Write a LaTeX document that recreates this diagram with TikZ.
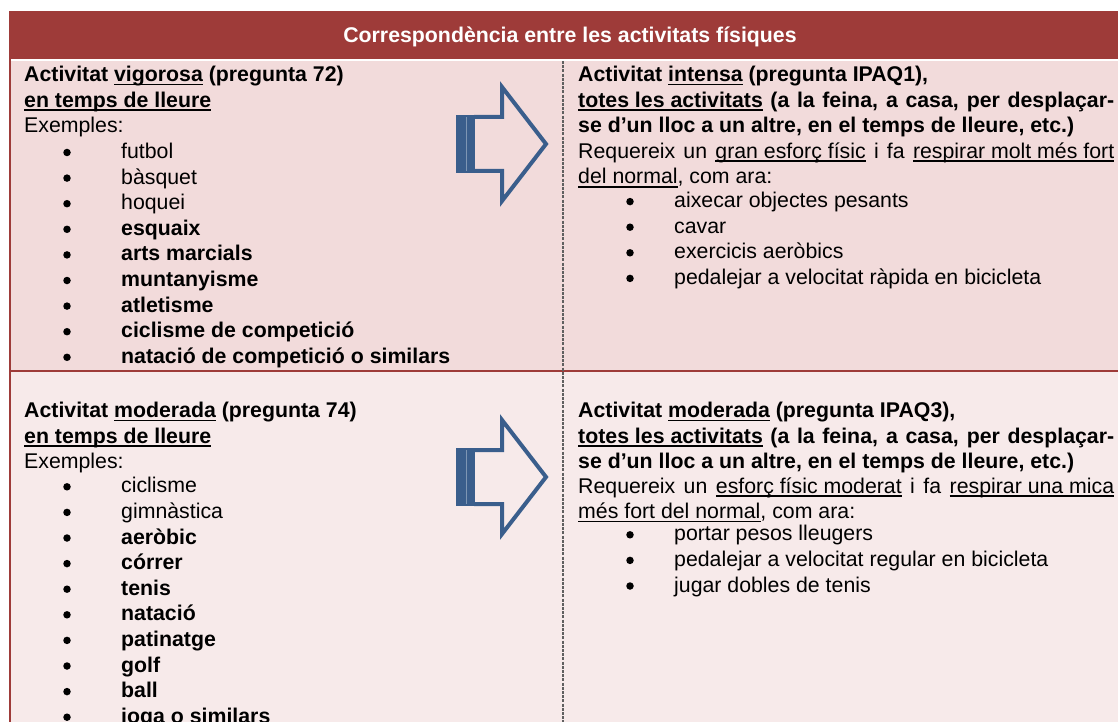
\documentclass[tikz,border=0pt]{standalone}
\usepackage{fontspec}
\setmainfont{Liberation Sans}
\usepackage{tikz}
\newcommand{\tsize}{\fontsize{21.3pt}{25.6pt}\selectfont}
\newcommand{\undl}[1]{\setbox0\hbox{#1}\rlap{\rule[-3.6pt]{\wd0}{1.5pt}}\box0\relax}
\newcommand{\jline}[1]{\makebox[536pt][s]{#1}}
\definecolor{cHead}{RGB}{158,59,57}
\definecolor{cRowA}{RGB}{242,219,219}
\definecolor{cRowB}{RGB}{247,234,234}
\definecolor{cArrow}{RGB}{58,94,140}
\definecolor{cDash}{RGB}{96,96,96}
\tikzstyle{txt}=[anchor=base west, inner sep=0pt, font=\tsize]
\tikzstyle{head}=[anchor=base, inner sep=0pt, text=white, font=\tsize\bfseries]
\tikzstyle{bul}=[circle, fill=black, inner sep=0pt, minimum size=7.5pt]
\tikzstyle{blk}=[draw=cArrow, line width=4pt, line join=miter, miter limit=10]
\begin{document}
\begin{tikzpicture}[x=1pt, y=-1pt]
  \useasboundingbox (0,0) rectangle (1118,722);
  \clip (0,0) rectangle (1118,722);
  % table cells
  \fill[cHead] (9,11) rectangle (1130,59);
  \fill[cRowA] (11,61) rectangle (1130,370);
  \fill[cRowB] (11,372) rectangle (1130,730);
  \fill[cHead] (9,369.7) rectangle (1130,371.7);
  \fill[cHead] (9,11) rectangle (11,730);
  \draw[cDash, line width=1.3pt, dash pattern=on 3pt off 1.2pt] (563,61) -- (563,730);
  \node[head] (title) at (570,43) {Correspondència entre les activitats físiques};

  % block arrows
  \foreach \c in {144,477}{
    \fill[cArrow] (456,\c-29) rectangle (475,\c+29);
    \draw[white, opacity=0.35, line width=0.8pt] (466.5,\c-27) -- (466.5,\c+27);
    \draw[blk] (474,\c-27) -- (502,\c-27) -- (502,\c-57) -- (546,\c) -- (502,\c+57) -- (502,\c+27) -- (474,\c+27);
  }

  % vigorosa / intensa
  \node[txt] (vig-1) at (24,81.6) {\textbf{Activitat \undl{vigorosa} (pregunta 72)}};
  \node[txt] (vig-2) at (24,107.2) {\textbf{\undl{en temps de lleure}}};
  \node[txt] (vig-3) at (24,132.8) {Exemples:};
  \foreach \t [count=\i] in {futbol,bàsquet,hoquei}{
    \node[bul] (vb-\i) at (67,{158.5+25.6*(\i-1)-6}) {};
    \node[txt] (vi-\i) at (121,{158.5+25.6*(\i-1)}) {\t};
  }
  \foreach \t [count=\i from 4] in {esquaix,arts marcials,muntanyisme,atletisme,ciclisme de competició,natació de competició o similars}{
    \node[bul] (vb-\i) at (67,{158.5+25.6*(\i-1)-6}) {};
    \node[txt] (vi-\i) at (121,{158.5+25.6*(\i-1)}) {\textbf{\t}};
  }
  \node[txt] (int-1) at (578,81.6) {\textbf{Activitat \undl{intensa} (pregunta IPAQ1),}};
  \node[txt] (int-2) at (578,107.2) {\bfseries\jline{\undl{totes les activitats} (a la feina, a casa, per desplaçar-}};
  \node[txt] (int-3) at (578,132.8) {\textbf{se d’un lloc a un altre, en el temps de lleure, etc.)}};
  \node[txt] (int-4) at (578,158.4) {\jline{Requereix un \undl{gran esforç físic} i fa \undl{respirar molt més fort}}};
  \node[txt] (int-5) at (578,184) {\undl{del normal}, com ara:};
  \foreach \t [count=\i] in {aixecar objectes pesants,cavar,exercicis aeròbics,pedalejar a velocitat ràpida en bicicleta}{
    \node[bul] (ib-\i) at (630,{207.6+25.6*(\i-1)-6}) {};
    \node[txt] (ii-\i) at (674,{207.6+25.6*(\i-1)}) {\t};
  }

  % moderada / moderada
  \node[txt] (mod-1) at (24,417.6) {\textbf{Activitat \undl{moderada} (pregunta 74)}};
  \node[txt] (mod-2) at (24,443.2) {\textbf{\undl{en temps de lleure}}};
  \node[txt] (mod-3) at (24,468.8) {Exemples:};
  \foreach \t [count=\i] in {ciclisme,gimnàstica}{
    \node[bul] (mb-\i) at (67,{492.8+25.6*(\i-1)-6}) {};
    \node[txt] (mi-\i) at (121,{492.8+25.6*(\i-1)}) {\t};
  }
  \foreach \t [count=\i from 3] in {aeròbic,córrer,tenis,natació,patinatge,golf,ball,ioga o similars}{
    \node[bul] (mb-\i) at (67,{492.8+25.6*(\i-1)-6}) {};
    \node[txt] (mi-\i) at (121,{492.8+25.6*(\i-1)}) {\textbf{\t}};
  }
  \node[txt] (ipa-1) at (578,417.6) {\textbf{Activitat \undl{moderada} (pregunta IPAQ3),}};
  \node[txt] (ipa-2) at (578,443.2) {\bfseries\jline{\undl{totes les activitats} (a la feina, a casa, per desplaçar-}};
  \node[txt] (ipa-3) at (578,468.8) {\textbf{se d’un lloc a un altre, en el temps de lleure, etc.)}};
  \node[txt] (ipa-4) at (578,493) {\jline{Requereix un \undl{esforç físic moderat} i fa \undl{respirar una mica}}};
  \node[txt] (ipa-5) at (578,518.4) {\undl{més fort del normal}, com ara:};
  \foreach \t [count=\i] in {portar pesos lleugers,pedalejar a velocitat regular en bicicleta,jugar dobles de tenis}{
    \node[bul] (pb-\i) at (630,{540.8+25.6*(\i-1)-6}) {};
    \node[txt] (pi-\i) at (674,{540.8+25.6*(\i-1)}) {\t};
  }
\end{tikzpicture}
\end{document}
